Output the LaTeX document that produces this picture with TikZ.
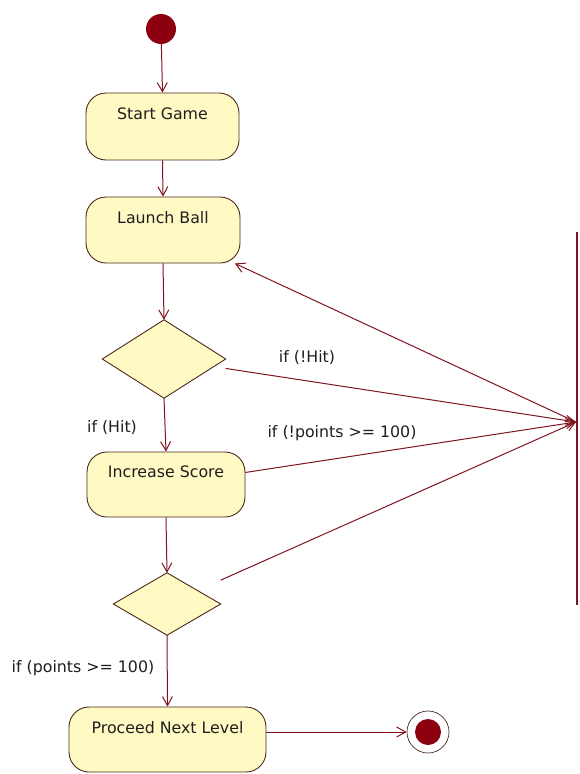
\documentclass[tikz,border=0pt]{standalone}
\usepackage{fontspec}
\setmainfont{DejaVu Sans}
\usetikzlibrary{arrows.meta}
\definecolor{flowred}{RGB}{128,20,30}
\definecolor{edgebrown}{RGB}{75,40,30}
\definecolor{actfill}{RGB}{255,250,196}
\definecolor{dotred}{RGB}{140,0,16}
\definecolor{txt}{RGB}{30,30,30}
\begin{document}
\begin{tikzpicture}[x=1pt,y=-1pt,
  every node/.style={font=\fontsize{15.8}{18}\selectfont, text=txt},
  activity/.style={rectangle, draw=edgebrown, fill=actfill, line width=0.9pt,
    rounded corners=20pt, inner xsep=0pt, inner ysep=0pt, text height=26pt},
  decision/.style={rectangle, inner sep=0pt},
  diamondfill/.style={draw=edgebrown, fill=actfill, line width=0.9pt, line join=miter},
  flow/.style={draw=flowred, line width=1pt, -{Straight Barb[length=9pt,width=10pt]}},
  guard/.style={inner sep=1pt}
]
\useasboundingbox (0,0) rectangle (579,774);

% initial and final states
\node[circle, fill=dotred, minimum size=30pt, inner sep=0pt] (start) at (161,29) {};
\node[circle, draw=edgebrown, line width=0.7pt, minimum size=42pt, inner sep=0pt] (final) at (428,732) {};
\fill[dotred] (final) circle[radius=13pt];

% actions
\node[activity, minimum width=153pt, text depth=41pt] (sg) at (162.5,126.5) {Start Game};
\node[activity, minimum width=154pt, text depth=40pt] (lb) at (163,230) {Launch Ball};
\node[activity, minimum width=158pt, text height=25pt, text depth=40pt] (is) at (166,484.5) {Increase Score};
\node[activity, minimum width=197pt, text depth=39pt] (pn) at (167.5,739.5) {Proceed Next Level};

% decisions
\node[decision, minimum width=123pt, minimum height=78pt] (d1) at (164,359) {};
\node[decision, minimum width=107pt, minimum height=62pt] (d2) at (167,604) {};
\foreach \d in {d1,d2}
  \draw[diamondfill] (\d.north) -- (\d.east) -- (\d.south) -- (\d.west) -- cycle;

% merge bar
\node[rectangle, fill=flowred, minimum width=2.2pt, minimum height=373pt, inner sep=0pt] (bar) at (577,418.5) {};
\coordinate (J) at (576,422);

% main flow
\draw[flow] (start) -- (sg.north);
\draw[flow] (sg.south) -- (lb.north);
\draw[flow] (lb.south) -- (d1.north);
\draw[flow] (d1.south) -- (is.north);
\draw[flow] (is.south) -- (d2.north);
\draw[flow] (d2.south) -- (pn.north);
\draw[flow] (pn.east |- final.west) -- (final.west);

% loop back through the bar
\draw[flow] (d1) -- (J);
\draw[flow] (is) -- (J);
\draw[flow] (d2) -- (J);
\draw[flow] (J) -- (lb);

% guards
\node[guard] (gHit) at (112,428) {if (Hit)};
\node[guard] (gNotHit) at (307,358) {if (!Hit)};
\node[guard] (gNotPts) at (342,433) {if (!points >= 100)};
\node[guard] (gPts) at (83,668) {if (points >= 100)};
\end{tikzpicture}
\end{document}
